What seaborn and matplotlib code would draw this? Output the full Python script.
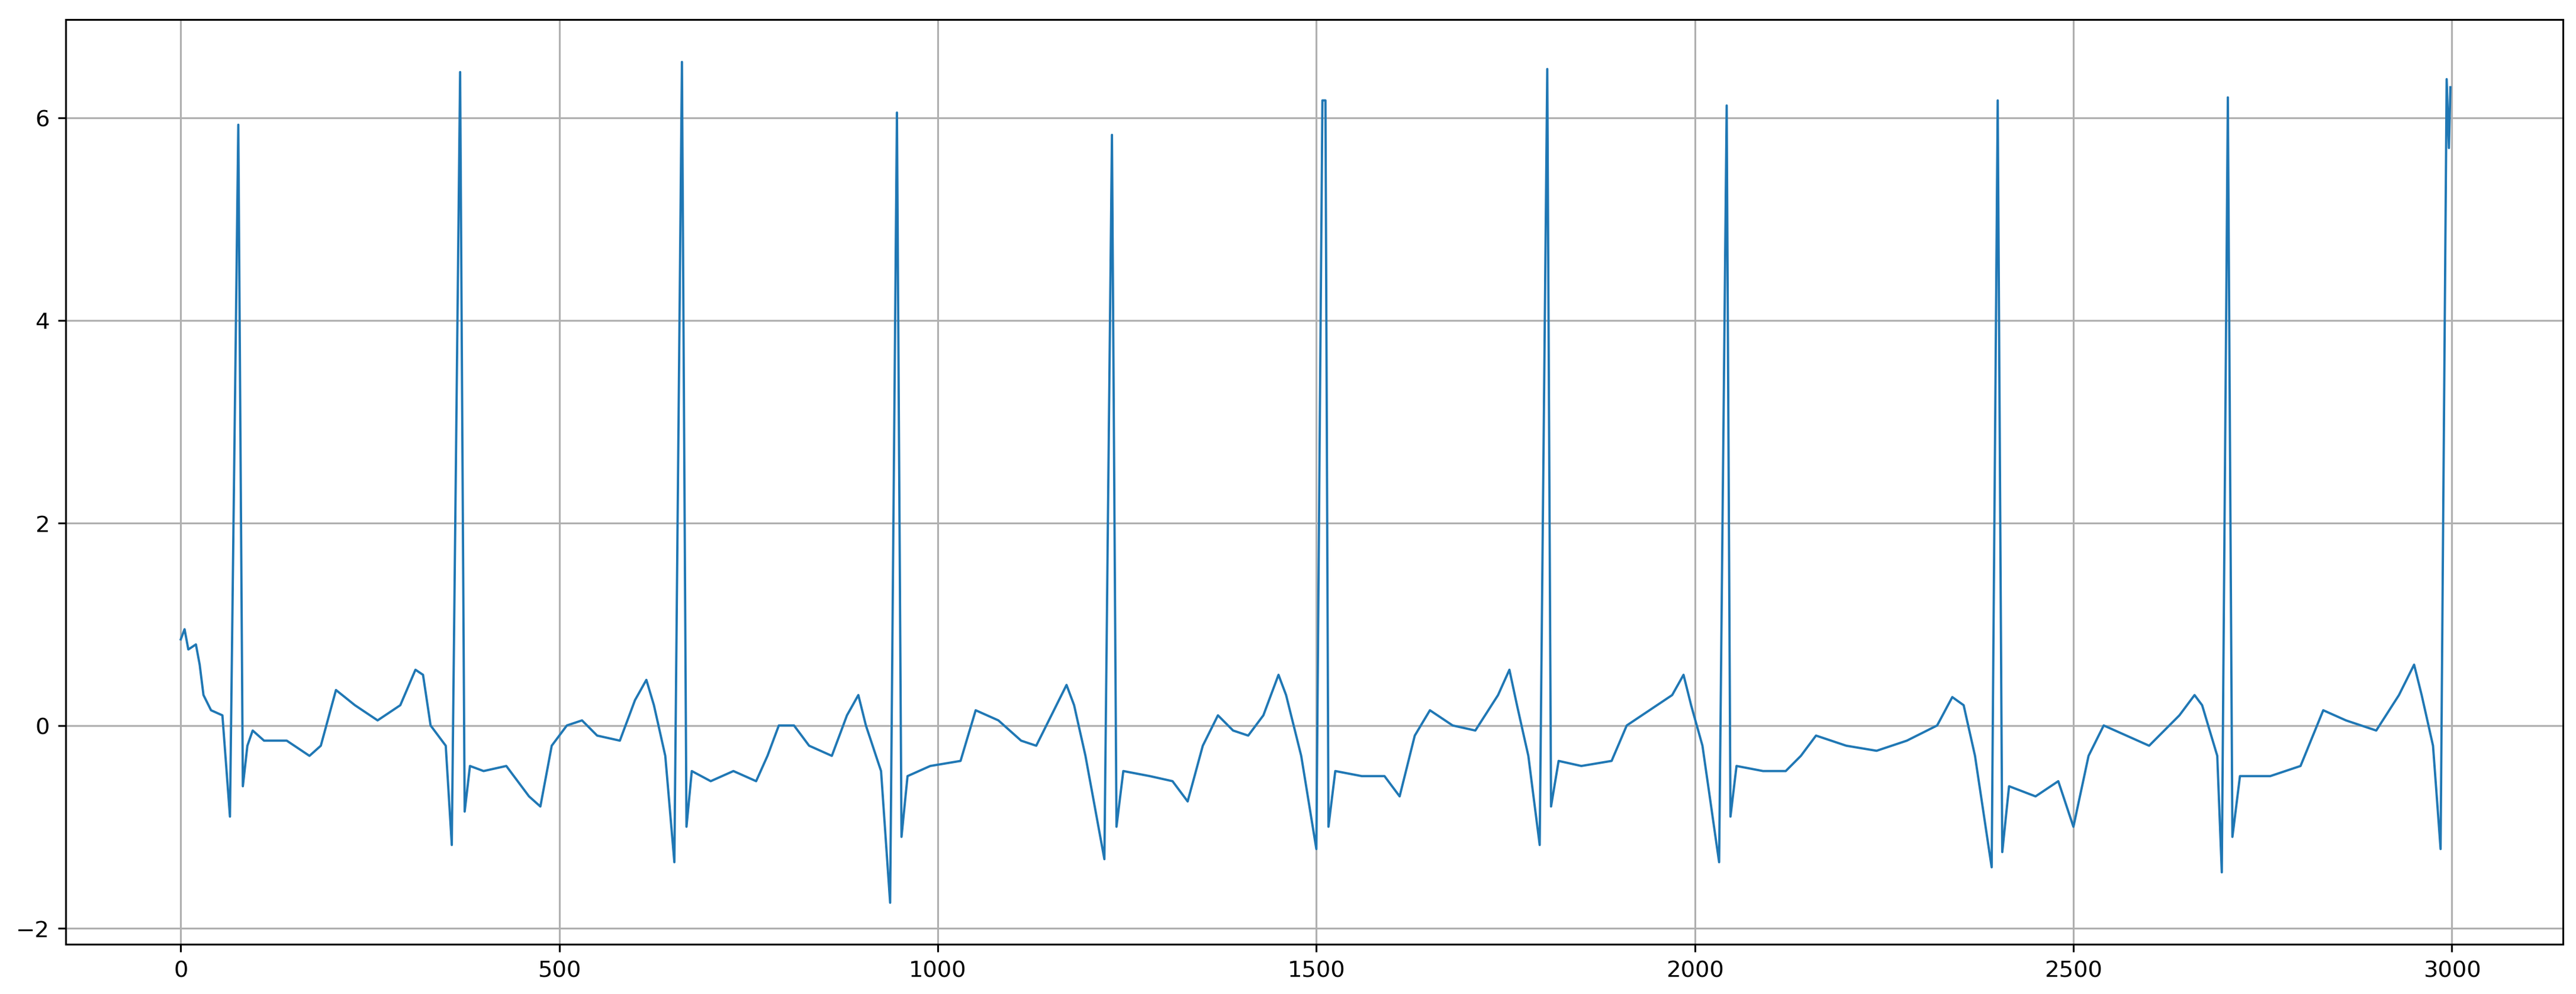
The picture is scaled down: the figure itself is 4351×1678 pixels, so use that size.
import numpy as np
import pandas as pd
import seaborn as sns
from matplotlib import pyplot as plt

# breakpoints of the trace
sample = [0, 5, 10, 20, 25, 30, 40, 55, 65, 76, 82, 88, 95, 110, 140, 170, 185, 205, 230, 260, 290, 310, 320, 330, 350, 358,
          369, 375, 382, 400, 430, 460, 475, 490, 510, 530, 550, 580, 600, 615, 625, 640, 652,
          662, 668, 675, 700, 730, 760, 775, 790, 810, 830, 860, 880, 895, 905, 925, 937,
          946, 952, 960, 990, 1030, 1050, 1080, 1110, 1130, 1150, 1170, 1180, 1195, 1220,
          1230, 1236, 1245, 1280, 1310, 1330, 1350, 1370, 1390, 1410, 1430, 1450, 1460, 1480, 1500,
          1508, 1512, 1516, 1525, 1560, 1590, 1610, 1630, 1650, 1680, 1710, 1740, 1755, 1765, 1780, 1795,
          1805, 1810, 1820, 1850, 1890, 1910, 1940, 1970, 1985, 1995, 2010, 2032,
          2042, 2047, 2055, 2090, 2120, 2140, 2160, 2200, 2240, 2280, 2320, 2340, 2355, 2370, 2392,
          2400, 2406, 2415, 2450, 2480, 2500, 2520, 2540, 2570, 2600, 2640, 2660, 2670, 2690, 2696,
          2704, 2710, 2720, 2760, 2800, 2830, 2860, 2900, 2930, 2950, 2960, 2975, 2985,
          2993, 2996, 2998]
signal = [0.85, 0.95, 0.75, 0.8, 0.6, 0.3, 0.15, 0.1, -0.9, 5.93, -0.6, -0.2, -0.05, -0.15, -0.15, -0.3, -0.2, 0.35, 0.2, 0.05, 0.2, 0.55, 0.5, 0.0, -0.2, -1.18,
          6.45, -0.85, -0.4, -0.45, -0.4, -0.7, -0.8, -0.2, 0.0, 0.05, -0.1, -0.15, 0.25, 0.45, 0.2, -0.3, -1.35,
          6.55, -1.0, -0.45, -0.55, -0.45, -0.55, -0.3, 0.0, 0.0, -0.2, -0.3, 0.1, 0.3, 0.0, -0.45, -1.75,
          6.05, -1.1, -0.5, -0.4, -0.35, 0.15, 0.05, -0.15, -0.2, 0.1, 0.4, 0.2, -0.3, -1.32,
          5.83, -1.0, -0.45, -0.5, -0.55, -0.75, -0.2, 0.1, -0.05, -0.1, 0.1, 0.5, 0.3, -0.3, -1.22,
          6.17, 6.17, -1.0, -0.45, -0.5, -0.5, -0.7, -0.1, 0.15, 0.0, -0.05, 0.3, 0.55, 0.2, -0.3, -1.18,
          6.48, -0.8, -0.35, -0.4, -0.35, 0.0, 0.15, 0.3, 0.5, 0.2, -0.2, -1.35,
          6.12, -0.9, -0.4, -0.45, -0.45, -0.3, -0.1, -0.2, -0.25, -0.15, 0.0, 0.28, 0.2, -0.3, -1.4,
          6.17, -1.25, -0.6, -0.7, -0.55, -1.0, -0.3, 0.0, -0.1, -0.2, 0.1, 0.3, 0.2, -0.3, -1.45,
          6.2, -1.1, -0.5, -0.5, -0.4, 0.15, 0.05, -0.05, 0.3, 0.6, 0.3, -0.2, -1.22,
          6.38, 5.7, 6.3]

frame = pd.DataFrame({'sample': sample, 'signal': signal})

plt.rcParams['font.family'] = 'DejaVu Sans'
fig = plt.figure(figsize=(15.68, 6.05), dpi=277.5)
ax = fig.add_axes([0.0255, 0.05, 0.9695, 0.93])
sns.lineplot(data=frame, x='sample', y='signal', ax=ax, color='#1f77b4', linewidth=1.0)
ax.set_xlim(-152, 3147)
ax.set_ylim(-2.16, 6.97)
ax.set_xticks([0, 500, 1000, 1500, 2000, 2500, 3000])
ax.set_yticks([-2, 0, 2, 4, 6])
ax.grid(True, color='#b0b0b0', linewidth=0.8)
ax.set_xlabel('')
ax.set_ylabel('')
ax.tick_params(labelsize=10)
plt.savefig('out.png')
